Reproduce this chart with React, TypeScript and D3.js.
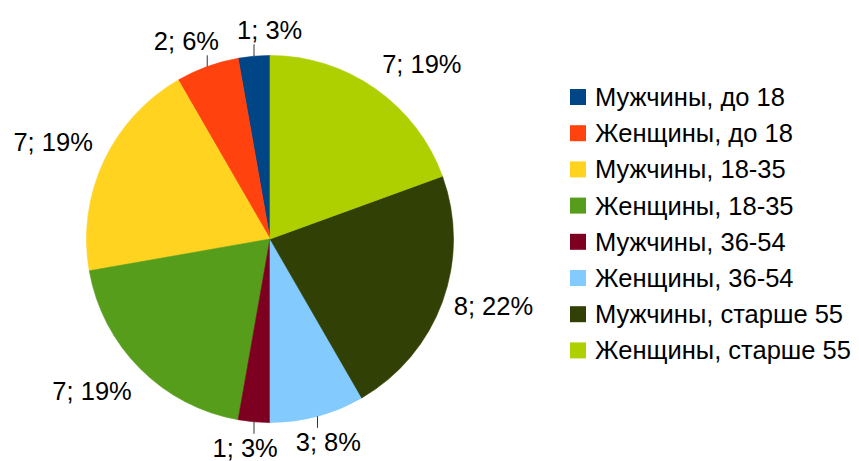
import React, { useMemo } from 'react';
import * as d3 from 'd3';

const categories = [
  'Мужчины, до 18',
  'Женщины, до 18',
  'Мужчины, 18-35',
  'Женщины, 18-35',
  'Мужчины, 36-54',
  'Женщины, 36-54',
  'Мужчины, старше 55',
  'Женщины, старше 55',
];
const values = [1, 2, 7, 7, 1, 3, 8, 7];
const colors = ['#004586', '#ff420e', '#ffd320', '#579d1c', '#7e0021', '#83caff', '#314004', '#aecf00'];

const W = 859;
const H = 461;
const FONT = "'Liberation Sans', Arial, sans-serif";
const FS = 25.5;

type Box = { x0: number; y0: number; w: number; h: number; text: string; ex: number; ey: number; shift: number };

export default function App() {
  const cx = 270, cy = 239, r = 183.5, dist = 12;
  const total = d3.sum(values);
  const arcs = d3.pie<number>().sort(null).startAngle(0).endAngle(-2 * Math.PI)(values);
  const arcGen = d3.arc<d3.PieArcDatum<number>>().innerRadius(0).outerRadius(r);

  const labels = useMemo(() => {
    const canvas = document.createElement('canvas');
    const ctx = canvas.getContext('2d')!;
    ctx.font = `${FS}px ${FONT}`;
    const asc = 0.905 * FS, desc = 0.212 * FS, h = asc + desc;
    const boxes: Box[] = arcs.map((a, i) => {
      const v = values[i];
      const text = `${v}; ${Math.round((v / total) * 100)}%`;
      const w = ctx.measureText(text).width;
      const mid = (a.startAngle + a.endAngle) / 2;
      const px = cx + (r + dist) * Math.sin(mid);
      const py = cy - (r + dist) * Math.cos(mid);
      const ex = cx + r * Math.sin(mid);
      const ey = cy - r * Math.cos(mid);
      let deg = 90 - (mid * 180) / Math.PI;
      deg = ((deg % 360) + 360) % 360;
      let x0 = px, y0 = py;
      if (deg <= 22.5 || deg >= 337.5) { x0 = px; y0 = py - h / 2; }
      else if (deg < 67.5) { x0 = px; y0 = py - h; }
      else if (deg < 112.5) { x0 = px - w / 2; y0 = py - h; }
      else if (deg <= 157.5) { x0 = px - w; y0 = py - h; }
      else if (deg <= 202.5) { x0 = px - w; y0 = py - h / 2; }
      else if (deg < 247.5) { x0 = px - w; y0 = py; }
      else if (deg < 292.5) { x0 = px - w / 2; y0 = py; }
      else { x0 = px; y0 = py; }
      return { x0, y0, w, h, text, ex, ey, shift: 0 };
    });
    const gap = 18;
    for (let it = 0; it < 20; it++) {
      for (let i = 0; i < boxes.length; i++) {
        for (let j = i + 1; j < boxes.length; j++) {
          const a = boxes[i], b = boxes[j];
          const vOver = a.y0 < b.y0 + b.h && b.y0 < a.y0 + a.h;
          if (!vOver) continue;
          const ac = a.x0 + a.w / 2, bc = b.x0 + b.w / 2;
          const need = (a.w + b.w) / 2 + gap;
          const sep = Math.abs(ac - bc);
          if (sep < need) {
            const d = (need - sep) / 2;
            const dir = ac < bc ? -1 : 1;
            a.x0 += dir * d; a.shift += d;
            b.x0 -= dir * d; b.shift += d;
          }
        }
      }
    }
    return boxes.map((b) => ({ ...b, baseline: b.y0 + asc }));
  }, []);

  const legendX = 570, legendY0 = 97, legendStep = 36.2;

  return (
    <svg width={W} height={H} style={{ position: 'absolute', left: 0, top: 0, background: '#fff' }} fontFamily={FONT}>
      <g transform={`translate(${cx},${cy})`}>
        {arcs.map((a, i) => (
          <path key={i} d={arcGen(a) || ''} fill={colors[i]} stroke={colors[i]} strokeWidth={0.6} strokeLinejoin="round" />
        ))}
      </g>
      {labels.map((b, i) => {
        const moved = b.shift > 3;
        let line = null;
        if (moved && b.ex >= b.x0 && b.ex <= b.x0 + b.w) {
          const above = b.y0 + b.h <= b.ey;
          const y2 = above ? b.y0 + b.h : b.y0;
          line = <line x1={b.ex} y1={b.ey} x2={b.ex} y2={y2} stroke="#333" strokeWidth={1} />;
        }
        return (
          <g key={i}>
            {line}
            <text x={b.x0} y={b.baseline} fontSize={FS} fill="#000">{b.text}</text>
          </g>
        );
      })}
      {categories.map((c, i) => (
        <g key={c} transform={`translate(${legendX},${legendY0 + i * legendStep})`}>
          <rect x={0} y={-8} width={16} height={16} fill={colors[i]} />
          <text x={25} y={FS * 0.35} fontSize={FS} fill="#000">{c}</text>
        </g>
      ))}
    </svg>
  );
}
